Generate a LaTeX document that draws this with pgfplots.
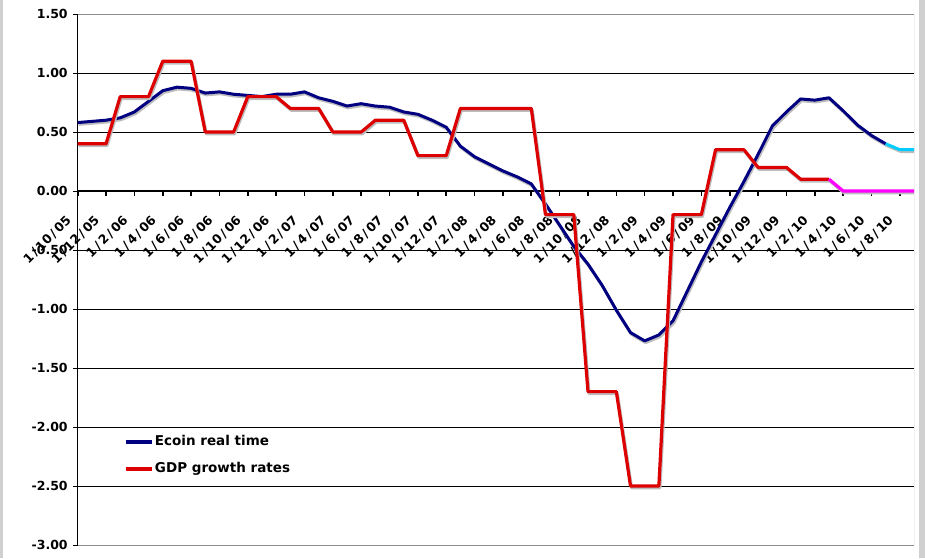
\documentclass[border=0pt]{standalone}
\usepackage{fontspec}
\setmainfont{DejaVu Sans}
\usepackage{pgfplots}
\usepackage{pgfplotstable}
\pgfplotsset{compat=1.18}
\definecolor{ecoin}{HTML}{000080}
\definecolor{gdp}{HTML}{DD0000}
\definecolor{ecoinf}{HTML}{00CCFF}
\definecolor{gdpf}{HTML}{FF00FF}
\definecolor{shadowgray}{HTML}{BDBDBD}
\definecolor{band}{HTML}{D0D0D0}
\definecolor{framegray}{HTML}{8C8C8C}
\newcommand{\ds}{\kern0.17em/\kern0.17em}

\pgfplotstableread{
m v
0 0.58
1 0.59
2 0.60
3 0.62
4 0.67
5 0.76
6 0.85
7 0.88
8 0.87
9 0.83
10 0.84
11 0.82
12 0.81
13 0.80
14 0.82
15 0.82
16 0.84
17 0.79
18 0.76
19 0.72
20 0.74
21 0.72
22 0.71
23 0.67
24 0.65
25 0.60
26 0.54
27 0.38
28 0.29
29 0.23
30 0.17
31 0.12
32 0.06
33 -0.11
34 -0.29
35 -0.47
36 -0.62
37 -0.80
38 -1.01
39 -1.20
40 -1.27
41 -1.22
42 -1.10
43 -0.85
44 -0.60
45 -0.37
46 -0.14
47 0.08
48 0.31
49 0.55
50 0.67
51 0.78
52 0.77
53 0.79
54 0.68
55 0.56
56 0.47
57 0.40
}\ecointable

\pgfplotstableread{
m v
57 0.40
58 0.35
59 0.35
}\ecoinfore

\pgfplotstableread{
m v
0 0.4
1 0.4
2 0.4
3 0.8
4 0.8
5 0.8
6 1.1
7 1.1
8 1.1
9 0.5
10 0.5
11 0.5
12 0.8
13 0.8
14 0.8
15 0.7
16 0.7
17 0.7
18 0.5
19 0.5
20 0.5
21 0.6
22 0.6
23 0.6
24 0.3
25 0.3
26 0.3
27 0.7
28 0.7
29 0.7
30 0.7
31 0.7
32 0.7
33 -0.2
34 -0.2
35 -0.2
36 -1.7
37 -1.7
38 -1.7
39 -2.5
40 -2.5
41 -2.5
42 -0.2
43 -0.2
44 -0.2
45 0.35
46 0.35
47 0.35
48 0.2
49 0.2
50 0.2
51 0.1
52 0.1
53 0.1
}\gdptable

\pgfplotstableread{
m v
53 0.1
54 0
55 0
56 0
57 0
58 0
59 0
}\gdpfore

\begin{document}
\begin{tikzpicture}
\fill[white] (0pt,0pt) rectangle (925pt,558pt);
\fill[band] (0pt,0pt) rectangle (3pt,558pt);
\fill[band] (919pt,0pt) rectangle (925pt,558pt);
\begin{axis}[
  at={(77.7pt,13pt)}, anchor=south west,
  scale only axis, width=836.3pt, height=531pt,
  xmin=0, xmax=59, ymin=-3, ymax=1.5,
  axis x line=middle, axis y line=left,
  axis line style={-},
  every inner x axis line/.append style={-},
  every outer y axis line/.append style={-},
  x axis line style={line width=2.6pt, black},
  y axis line style={line width=0.8pt, black},
  hide obscured x ticks=false, hide obscured y ticks=false,
  tick align=outside, major tick length=4.5pt,
  xtick={0,2,...,58},
  xticklabels={1\ds 10\ds 05,1\ds 12\ds 05,1\ds 2\ds 06,1\ds 4\ds 06,1\ds 6\ds 06,1\ds 8\ds 06,1\ds 10\ds 06,1\ds 12\ds 06,1\ds 2\ds 07,1\ds 4\ds 07,1\ds 6\ds 07,1\ds 8\ds 07,1\ds 10\ds 07,1\ds 12\ds 07,1\ds 2\ds 08,1\ds 4\ds 08,1\ds 6\ds 08,1\ds 8\ds 08,1\ds 10\ds 08,1\ds 12\ds 08,1\ds 2\ds 09,1\ds 4\ds 09,1\ds 6\ds 09,1\ds 8\ds 09,1\ds 10\ds 09,1\ds 12\ds 09,1\ds 2\ds 10,1\ds 4\ds 10,1\ds 6\ds 10,1\ds 8\ds 10},
  x tick style={line width=1.6pt, black},
  y tick style={line width=0.8pt, black},
  xticklabel style={font=\bfseries\fontsize{12.5}{14}\selectfont, xshift=-8pt, yshift=-22pt, rotate=45, anchor=east, inner sep=1pt},
  ytick={-2.5,-2,...,1.0},
  extra y ticks={-3,1.5},
  extra y tick style={grid=major, major grid style={framegray, line width=0.8pt}},
  ymajorgrids, major grid style={black, line width=0.8pt},
  yticklabel style={font=\bfseries\fontsize{12.5}{14}\selectfont, xshift=-2pt},
  /pgf/number format/fixed, /pgf/number format/fixed zerofill,
  /pgf/number format/precision=2, /pgf/number format/assume math mode=true,
  legend style={draw=none, fill=none, at={(0.055,0.208)}, anchor=north west,
    font=\bfseries\fontsize{13.5}{15}\selectfont, row sep=12.5pt, inner sep=0pt,
    nodes={inner sep=1pt, text height=9.5pt, text depth=3pt},
    /tikz/every even column/.append style={column sep=3pt}},
  legend cell align=left,
  legend image code/.code={\draw[#1, line width=3.5pt] (0pt,0pt) -- (26.6pt,0pt);},
  line join=round,
]
\draw[framegray, line width=0.8pt] (rel axis cs:1,0) -- (rel axis cs:1,1);
\addplot[shadowgray, line width=3pt, xshift=1pt, yshift=-1.8pt, forget plot] table[x=m,y=v] {\ecointable};
\addplot[shadowgray, line width=3pt, xshift=1pt, yshift=-1.8pt, forget plot] table[x=m,y=v] {\ecoinfore};
\addplot[ecoin, line width=3pt] table[x=m,y=v] {\ecointable};
\addlegendentry{Ecoin real time}
\addplot[ecoinf, line width=3pt, forget plot] table[x=m,y=v] {\ecoinfore};
\addplot[shadowgray, line width=3.2pt, xshift=1pt, yshift=-1.8pt, forget plot] table[x=m,y=v] {\gdptable};
\addplot[shadowgray, line width=3.2pt, xshift=1pt, yshift=-1.8pt, forget plot] table[x=m,y=v] {\gdpfore};
\addplot[gdp, line width=3.2pt] table[x=m,y=v] {\gdptable};
\addlegendentry{GDP growth rates}
\addplot[gdpf, line width=3.2pt, forget plot] table[x=m,y=v] {\gdpfore};
\end{axis}
\pgfresetboundingbox
\path[use as bounding box] (0pt,0pt) rectangle (925pt,558pt);
\end{tikzpicture}
\end{document}
